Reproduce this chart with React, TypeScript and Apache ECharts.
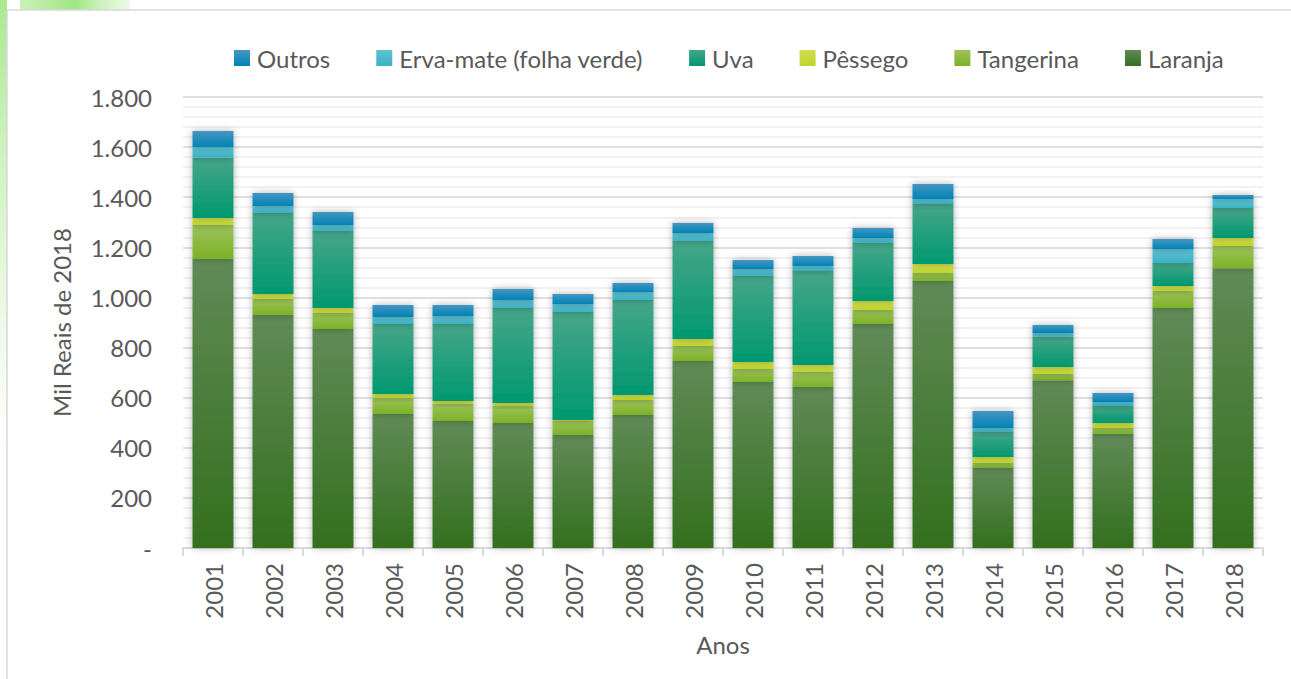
import React, { useEffect, useRef } from "react";
import * as echarts from "echarts";

const years = ["2001","2002","2003","2004","2005","2006","2007","2008","2009","2010","2011","2012","2013","2014","2015","2016","2017","2018"];
const laranja = [1153, 930, 874, 535, 507, 499, 451, 531, 746, 663, 643, 894, 1066, 319, 670, 455, 958, 1117];
const tangerina = [136, 64, 64, 64, 69, 69, 56, 60, 60, 51, 59, 56, 32, 20, 24, 24, 68, 88];
const pessego = [28, 20, 20, 16, 11, 11, 4, 20, 28, 28, 28, 36, 35, 24, 28, 20, 20, 32];
const uva = [241, 323, 307, 279, 307, 379, 431, 379, 391, 344, 376, 231, 240, 100, 121, 68, 91, 120];
const ervaMate = [42, 28, 24, 28, 32, 32, 32, 32, 32, 28, 19, 20, 20, 16, 15, 16, 56, 36];
const outros = [64, 52, 52, 48, 44, 44, 40, 36, 40, 35, 40, 40, 60, 68, 32, 36, 40, 16];
const legendOrder = ["Outros", "Erva-mate (folha verde)", "Uva", "Pêssego", "Tangerina", "Laranja"];

const FONT = "Lato, 'Open Sans', sans-serif";
const FS = 24;

function grad(top: string, bottom: string) {
  return new echarts.graphic.LinearGradient(0, 0, 0, 1, [
    { offset: 0, color: top },
    { offset: 1, color: bottom },
  ]);
}

export default function App() {
  const ref = useRef<HTMLDivElement>(null);
  useEffect(() => {
    if (!ref.current) return;
    const chart = echarts.init(ref.current, undefined, { renderer: "svg" });
    const mk = (name: string, data: number[], top: string, bottom: string) => ({
      name,
      type: "bar",
      stack: "total",
      data,
      barWidth: 41,
      itemStyle: {
        color: grad(top, bottom),
        shadowBlur: 7,
        shadowColor: "rgba(0,0,0,0.3)",
      },
      emphasis: { disabled: true },
    });
    chart.setOption({
      animation: false,
      backgroundColor: "#ffffff",
      textStyle: { fontFamily: FONT },
      graphic: [
        {
          type: "rect",
          shape: { x: 20, y: 0, width: 110, height: 10 },
          style: {
            fill: new echarts.graphic.LinearGradient(0, 0, 1, 0, [
              { offset: 0, color: "rgba(170,230,140,0.6)" },
              { offset: 0.5, color: "rgba(160,230,130,1)" },
              { offset: 1, color: "rgba(200,240,180,0.3)" },
            ]),
          },
          z: -1,
        },
        {
          type: "rect",
          shape: { x: 0, y: 0, width: 7, height: 460 },
          style: {
            fill: new echarts.graphic.LinearGradient(0, 0, 0, 1, [
              { offset: 0, color: "rgba(160,230,130,0.9)" },
              { offset: 1, color: "rgba(200,240,180,0)" },
            ]),
          },
          z: -1,
        },
        {
          type: "line",
          shape: { x1: 7, y1: 10, x2: 1291, y2: 10 },
          style: { stroke: "#d9d9d9", lineWidth: 1.5 },
        },
        {
          type: "line",
          shape: { x1: 7, y1: 10, x2: 7, y2: 679 },
          style: { stroke: "#d9d9d9", lineWidth: 1.5 },
        },
      ],
      legend: {
        data: legendOrder,
        left: 229,
        top: 41,
        itemWidth: 16,
        itemHeight: 16,
        itemGap: 46,
        icon: "rect",
        textStyle: { fontSize: FS, lineHeight: 24, color: "#595959", fontFamily: FONT, padding: [0, 0, 0, 2] },
      },
      grid: { left: 183, right: 28, top: 97, bottom: 131 },
      xAxis: {
        type: "category",
        data: years,
        name: "Anos",
        nameLocation: "middle",
        nameGap: 84,
        nameTextStyle: { fontSize: FS, color: "#595959" },
        axisLine: { lineStyle: { color: "#d9d9d9", width: 2 } },
        axisTick: { show: true, length: 8, lineStyle: { color: "#d9d9d9", width: 2 } },
        axisLabel: { rotate: 90, fontSize: FS, color: "#595959", margin: 15 },
      },
      yAxis: {
        type: "value",
        min: 0,
        max: 1800,
        interval: 200,
        name: "Mil Reais de 2018",
        nameLocation: "middle",
        nameRotate: 90,
        nameGap: 110,
        nameTextStyle: { fontSize: FS, color: "#595959" },
        axisLine: { show: false },
        axisTick: { show: false },
        axisLabel: {
          fontSize: FS,
          color: "#595959",
          margin: 31,
          formatter: (v: number) => (v === 0 ? "-" : v.toLocaleString("de-DE")),
        },
        splitLine: { lineStyle: { color: "#d4d4d4", width: 1.5 } },
        minorTick: { show: false, splitNumber: 5 },
        minorSplitLine: { show: true, lineStyle: { color: "#eeeeee", width: 1.5 } },
      },
      series: [
        mk("Laranja", laranja, "#608b57", "#346f1e"),
        mk("Tangerina", tangerina, "#9cc35c", "#7db226"),
        mk("Pêssego", pessego, "#d0dc50", "#c0d62c"),
        mk("Uva", uva, "#46a688", "#009870"),
        mk("Erva-mate (folha verde)", ervaMate, "#60c1d0", "#3ab3c6"),
        mk("Outros", outros, "#4596c2", "#0083b5"),
      ],
    });
    return () => chart.dispose();
  }, []);
  return (
    <div
      ref={ref}
      style={{ position: "fixed", left: 0, top: 0, width: 1291, height: 679 }}
    />
  );
}
